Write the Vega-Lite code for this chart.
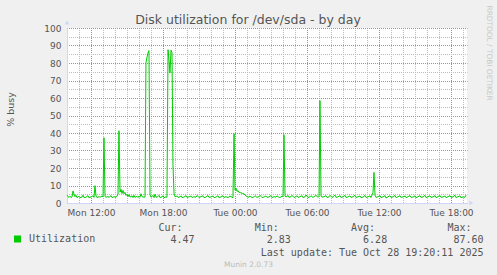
{
  "$schema": "https://vega.github.io/schema/vega-lite/v6.json",
  "width": 400,
  "height": 175,
  "autosize": {"type": "none"},
  "padding": {"left": 67, "top": 28, "right": 30, "bottom": 72},
  "background": "#f0f0f0",
  "title": {
    "text": "Disk utilization for /dev/sda - by day",
    "font": "DejaVu Sans",
    "fontSize": 12.5,
    "fontWeight": "normal",
    "color": "#555555",
    "anchor": "middle",
    "frame": "group",
    "dx": -19,
    "dy": 25,
    "offset": 4
  },
  "config": {
    "view": {"fill": "#ffffff", "stroke": null}
  },
  "datasets": {
    "disk": [
      {"hour": 10.00, "busy": 4.5}, {"hour": 10.08, "busy": 3.7}, {"hour": 10.17, "busy": 3.2}, {"hour": 10.25, "busy": 3.9},
      {"hour": 10.33, "busy": 3.1}, {"hour": 10.42, "busy": 3.5}, {"hour": 10.50, "busy": 6.9}, {"hour": 10.58, "busy": 5.2},
      {"hour": 10.67, "busy": 3.6}, {"hour": 10.75, "busy": 4.4}, {"hour": 10.83, "busy": 3.1}, {"hour": 11.00, "busy": 3.8},
      {"hour": 11.08, "busy": 3.0}, {"hour": 11.25, "busy": 3.4}, {"hour": 11.33, "busy": 4.5}, {"hour": 11.42, "busy": 3.1},
      {"hour": 11.58, "busy": 3.3}, {"hour": 11.75, "busy": 4.2}, {"hour": 11.83, "busy": 3.0}, {"hour": 12.00, "busy": 3.5},
      {"hour": 12.17, "busy": 4.1}, {"hour": 12.25, "busy": 3.2}, {"hour": 12.33, "busy": 9.9}, {"hour": 12.42, "busy": 4.0},
      {"hour": 12.50, "busy": 3.1}, {"hour": 12.67, "busy": 3.6}, {"hour": 12.75, "busy": 3.3}, {"hour": 12.92, "busy": 4.0},
      {"hour": 13.00, "busy": 3.4}, {"hour": 13.08, "busy": 37.3}, {"hour": 13.17, "busy": 3.8}, {"hour": 13.25, "busy": 3.3},
      {"hour": 13.42, "busy": 3.7}, {"hour": 13.50, "busy": 3.2}, {"hour": 13.67, "busy": 4.2}, {"hour": 13.75, "busy": 3.1},
      {"hour": 13.92, "busy": 3.6}, {"hour": 14.08, "busy": 3.2}, {"hour": 14.17, "busy": 4.0}, {"hour": 14.25, "busy": 5.1},
      {"hour": 14.33, "busy": 41.3}, {"hour": 14.42, "busy": 6.2}, {"hour": 14.50, "busy": 7.8}, {"hour": 14.58, "busy": 5.4},
      {"hour": 14.67, "busy": 7.2}, {"hour": 14.75, "busy": 5.3}, {"hour": 14.83, "busy": 6.1}, {"hour": 14.92, "busy": 4.3},
      {"hour": 15.00, "busy": 5.0}, {"hour": 15.08, "busy": 3.6}, {"hour": 15.17, "busy": 4.8}, {"hour": 15.25, "busy": 3.4},
      {"hour": 15.42, "busy": 4.1}, {"hour": 15.50, "busy": 3.1}, {"hour": 15.58, "busy": 4.4}, {"hour": 15.67, "busy": 3.2},
      {"hour": 15.83, "busy": 3.8}, {"hour": 15.92, "busy": 3.1}, {"hour": 16.00, "busy": 4.0}, {"hour": 16.08, "busy": 3.3},
      {"hour": 16.17, "busy": 5.3}, {"hour": 16.25, "busy": 3.6}, {"hour": 16.42, "busy": 3.3}, {"hour": 16.50, "busy": 3.5},
      {"hour": 16.58, "busy": 80.2}, {"hour": 16.67, "busy": 83.4}, {"hour": 16.75, "busy": 85.8}, {"hour": 16.83, "busy": 87.1},
      {"hour": 16.92, "busy": 4.6}, {"hour": 17.00, "busy": 3.3}, {"hour": 17.17, "busy": 4.3}, {"hour": 17.25, "busy": 3.1},
      {"hour": 17.33, "busy": 5.0}, {"hour": 17.42, "busy": 3.3}, {"hour": 17.58, "busy": 3.6}, {"hour": 17.67, "busy": 4.4},
      {"hour": 17.75, "busy": 3.1}, {"hour": 17.92, "busy": 3.5}, {"hour": 18.00, "busy": 4.2}, {"hour": 18.08, "busy": 3.0},
      {"hour": 18.25, "busy": 3.6}, {"hour": 18.33, "busy": 3.2}, {"hour": 18.42, "busy": 87.6}, {"hour": 18.50, "busy": 81.5},
      {"hour": 18.58, "busy": 74.3}, {"hour": 18.67, "busy": 87.3}, {"hour": 18.75, "busy": 85.9}, {"hour": 18.83, "busy": 22.0},
      {"hour": 18.92, "busy": 5.4}, {"hour": 19.00, "busy": 3.6}, {"hour": 19.17, "busy": 4.0}, {"hour": 19.25, "busy": 3.2},
      {"hour": 19.42, "busy": 3.5}, {"hour": 19.50, "busy": 4.1}, {"hour": 19.58, "busy": 3.1}, {"hour": 19.75, "busy": 3.4},
      {"hour": 19.92, "busy": 4.2}, {"hour": 20.00, "busy": 3.2}, {"hour": 20.17, "busy": 3.5}, {"hour": 20.33, "busy": 4.0},
      {"hour": 20.42, "busy": 3.1}, {"hour": 20.58, "busy": 3.6}, {"hour": 20.75, "busy": 3.3}, {"hour": 20.83, "busy": 4.3},
      {"hour": 21.00, "busy": 3.2}, {"hour": 21.17, "busy": 3.6}, {"hour": 21.33, "busy": 4.1}, {"hour": 21.42, "busy": 3.1},
      {"hour": 21.58, "busy": 3.4}, {"hour": 21.75, "busy": 4.3}, {"hour": 21.83, "busy": 3.2}, {"hour": 22.00, "busy": 3.5},
      {"hour": 22.17, "busy": 4.0}, {"hour": 22.25, "busy": 3.1}, {"hour": 22.42, "busy": 3.4}, {"hour": 22.58, "busy": 4.2},
      {"hour": 22.67, "busy": 3.0}, {"hour": 22.83, "busy": 3.5}, {"hour": 23.00, "busy": 4.1}, {"hour": 23.08, "busy": 3.2},
      {"hour": 23.25, "busy": 3.6}, {"hour": 23.42, "busy": 3.1}, {"hour": 23.58, "busy": 4.0}, {"hour": 23.75, "busy": 3.3},
      {"hour": 23.83, "busy": 3.0}, {"hour": 23.92, "busy": 39.6}, {"hour": 24.00, "busy": 7.4}, {"hour": 24.08, "busy": 8.5},
      {"hour": 24.17, "busy": 6.6}, {"hour": 24.25, "busy": 7.1}, {"hour": 24.33, "busy": 6.0}, {"hour": 24.42, "busy": 6.2},
      {"hour": 24.50, "busy": 5.5}, {"hour": 24.58, "busy": 5.9}, {"hour": 24.67, "busy": 5.2}, {"hour": 24.75, "busy": 5.4},
      {"hour": 24.83, "busy": 4.5}, {"hour": 24.92, "busy": 4.1}, {"hour": 25.00, "busy": 3.6}, {"hour": 25.17, "busy": 3.3},
      {"hour": 25.25, "busy": 4.0}, {"hour": 25.42, "busy": 3.1}, {"hour": 25.58, "busy": 3.5}, {"hour": 25.67, "busy": 4.2},
      {"hour": 25.83, "busy": 3.2}, {"hour": 26.00, "busy": 3.6}, {"hour": 26.08, "busy": 4.4}, {"hour": 26.25, "busy": 3.1},
      {"hour": 26.42, "busy": 3.4}, {"hour": 26.58, "busy": 4.0}, {"hour": 26.67, "busy": 3.2}, {"hour": 26.83, "busy": 3.5},
      {"hour": 27.00, "busy": 4.3}, {"hour": 27.08, "busy": 3.1}, {"hour": 27.25, "busy": 3.6}, {"hour": 27.42, "busy": 3.3},
      {"hour": 27.50, "busy": 4.1}, {"hour": 27.67, "busy": 3.2}, {"hour": 27.83, "busy": 3.4}, {"hour": 27.92, "busy": 4.0},
      {"hour": 28.00, "busy": 3.6}, {"hour": 28.08, "busy": 39.0}, {"hour": 28.17, "busy": 4.0}, {"hour": 28.25, "busy": 3.4},
      {"hour": 28.42, "busy": 4.3}, {"hour": 28.50, "busy": 3.2}, {"hour": 28.67, "busy": 3.6}, {"hour": 28.75, "busy": 4.4},
      {"hour": 28.92, "busy": 3.1}, {"hour": 29.00, "busy": 3.5}, {"hour": 29.17, "busy": 4.1}, {"hour": 29.25, "busy": 3.2},
      {"hour": 29.42, "busy": 3.6}, {"hour": 29.58, "busy": 4.2}, {"hour": 29.67, "busy": 3.1}, {"hour": 29.83, "busy": 3.5},
      {"hour": 29.92, "busy": 4.6}, {"hour": 30.08, "busy": 3.2}, {"hour": 30.25, "busy": 3.5}, {"hour": 30.33, "busy": 4.1},
      {"hour": 30.50, "busy": 3.2}, {"hour": 30.58, "busy": 3.6}, {"hour": 30.75, "busy": 4.3}, {"hour": 30.92, "busy": 3.3},
      {"hour": 31.00, "busy": 3.8}, {"hour": 31.08, "busy": 58.5}, {"hour": 31.17, "busy": 4.1}, {"hour": 31.25, "busy": 3.3},
      {"hour": 31.42, "busy": 3.6}, {"hour": 31.58, "busy": 4.2}, {"hour": 31.67, "busy": 3.1}, {"hour": 31.83, "busy": 3.5},
      {"hour": 31.92, "busy": 4.4}, {"hour": 32.08, "busy": 3.2}, {"hour": 32.17, "busy": 3.6}, {"hour": 32.33, "busy": 4.5},
      {"hour": 32.42, "busy": 3.2}, {"hour": 32.58, "busy": 3.5}, {"hour": 32.75, "busy": 4.2}, {"hour": 32.83, "busy": 3.1},
      {"hour": 33.00, "busy": 3.6}, {"hour": 33.17, "busy": 4.3}, {"hour": 33.25, "busy": 3.2}, {"hour": 33.42, "busy": 3.5},
      {"hour": 33.58, "busy": 4.1}, {"hour": 33.67, "busy": 3.1}, {"hour": 33.83, "busy": 3.6}, {"hour": 34.00, "busy": 4.4},
      {"hour": 34.08, "busy": 3.2}, {"hour": 34.25, "busy": 3.5}, {"hour": 34.42, "busy": 4.0}, {"hour": 34.50, "busy": 3.0},
      {"hour": 34.67, "busy": 3.4}, {"hour": 34.83, "busy": 4.3}, {"hour": 34.92, "busy": 3.2}, {"hour": 35.08, "busy": 3.5},
      {"hour": 35.25, "busy": 4.1}, {"hour": 35.33, "busy": 3.1}, {"hour": 35.50, "busy": 6.0}, {"hour": 35.58, "busy": 17.5},
      {"hour": 35.67, "busy": 4.4}, {"hour": 35.75, "busy": 3.2}, {"hour": 35.92, "busy": 3.6}, {"hour": 36.08, "busy": 4.3},
      {"hour": 36.17, "busy": 3.1}, {"hour": 36.33, "busy": 3.5}, {"hour": 36.50, "busy": 4.2}, {"hour": 36.58, "busy": 2.83},
      {"hour": 36.75, "busy": 3.6}, {"hour": 36.92, "busy": 4.1}, {"hour": 37.00, "busy": 3.2}, {"hour": 37.17, "busy": 3.5},
      {"hour": 37.33, "busy": 4.3}, {"hour": 37.42, "busy": 3.1}, {"hour": 37.58, "busy": 3.6}, {"hour": 37.75, "busy": 4.2},
      {"hour": 37.83, "busy": 3.2}, {"hour": 38.00, "busy": 3.5}, {"hour": 38.17, "busy": 4.0}, {"hour": 38.25, "busy": 3.1},
      {"hour": 38.42, "busy": 3.6}, {"hour": 38.58, "busy": 4.3}, {"hour": 38.67, "busy": 3.2}, {"hour": 38.83, "busy": 3.4},
      {"hour": 39.00, "busy": 4.1}, {"hour": 39.08, "busy": 3.0}, {"hour": 39.25, "busy": 3.6}, {"hour": 39.42, "busy": 4.2},
      {"hour": 39.50, "busy": 3.2}, {"hour": 39.67, "busy": 3.5}, {"hour": 39.83, "busy": 4.3}, {"hour": 39.92, "busy": 3.1},
      {"hour": 40.08, "busy": 3.6}, {"hour": 40.25, "busy": 4.1}, {"hour": 40.33, "busy": 3.2}, {"hour": 40.50, "busy": 3.5},
      {"hour": 40.67, "busy": 4.2}, {"hour": 40.75, "busy": 3.1}, {"hour": 40.92, "busy": 3.6}, {"hour": 41.08, "busy": 4.3},
      {"hour": 41.17, "busy": 3.2}, {"hour": 41.33, "busy": 3.5}, {"hour": 41.50, "busy": 4.0}, {"hour": 41.58, "busy": 3.1},
      {"hour": 41.75, "busy": 3.6}, {"hour": 41.92, "busy": 4.2}, {"hour": 42.00, "busy": 3.2}, {"hour": 42.17, "busy": 3.5},
      {"hour": 42.33, "busy": 4.4}, {"hour": 42.42, "busy": 3.1}, {"hour": 42.58, "busy": 3.6}, {"hour": 42.75, "busy": 4.1},
      {"hour": 42.83, "busy": 3.0}, {"hour": 43.00, "busy": 3.5}, {"hour": 43.17, "busy": 3.3}, {"hour": 43.25, "busy": 4.47}
    ]
  },
  "layer": [
    {
      "data": {"name": "disk"},
      "mark": {"type": "line", "strokeWidth": 1},
      "encoding": {
        "x": {
          "field": "hour",
          "type": "quantitative",
          "scale": {"domain": [10, 43.3333], "nice": false, "zero": false},
          "axis": {
            "orient": "bottom",
            "values": [10, 11, 12, 13, 14, 15, 16, 17, 18, 19, 20, 21, 22, 23, 24, 25, 26, 27, 28, 29, 30, 31, 32, 33, 34, 35, 36, 37, 38, 39, 40, 41, 42, 43],
            "grid": true,
            "gridDash": [1, 1],
            "gridDashOffset": 0.5,
            "gridOpacity": 1,
            "gridColor": {"condition": {"test": "datum.value % 6 === 0", "value": "#e27474"}, "value": "#bcbcbc"},
            "domain": true,
            "domainColor": "#cfd6f8",
            "ticks": false,
            "tickSize": 0,
            "labelExpr": "datum.value % 6 === 0 ? (datum.value < 24 ? 'Mon ' : 'Tue ') + (datum.value % 24 < 10 ? '0' : '') + (datum.value % 24) + ':00' : ''",
            "labelFont": "DejaVu Sans",
            "labelFontSize": 9,
            "labelColor": "#555555",
            "labelPadding": 5.5,
            "labelFlush": false,
            "labelOverlap": false,
            "labelBound": false,
            "title": [
              "Cur:\u00a0\u00a0\u00a0\u00a0\u00a0\u00a0\u00a0\u00a0\u00a0\u00a0\u00a0\u00a0Min:\u00a0\u00a0\u00a0\u00a0\u00a0\u00a0\u00a0\u00a0\u00a0\u00a0\u00a0\u00a0Avg:\u00a0\u00a0\u00a0\u00a0\u00a0\u00a0\u00a0\u00a0\u00a0\u00a0\u00a0\u00a0Max:\u00a0\u00a0\u200b",
              "4.47\u00a0\u00a0\u00a0\u00a0\u00a0\u00a0\u00a0\u00a0\u00a0\u00a0\u00a0\u00a02.83\u00a0\u00a0\u00a0\u00a0\u00a0\u00a0\u00a0\u00a0\u00a0\u00a0\u00a0\u00a06.28\u00a0\u00a0\u00a0\u00a0\u00a0\u00a0\u00a0\u00a0\u00a0\u00a0\u00a087.60",
              "Last\u00a0update:\u00a0Tue\u00a0Oct\u00a028\u00a019:20:11\u00a02025"
            ],
            "titleFont": "DejaVu Sans Mono",
            "titleFontSize": 10,
            "titleFontWeight": "normal",
            "titleColor": "#555555",
            "titleAlign": "right",
            "titleAnchor": null,
            "titleBaseline": "alphabetic",
            "titleLineHeight": 12.3,
            "titleX": 416,
            "titleY": 27.6
          }
        },
        "y": {
          "field": "busy",
          "type": "quantitative",
          "scale": {"domain": [0, 100], "nice": false},
          "axis": {
            "orient": "left",
            "values": [0, 5, 10, 15, 20, 25, 30, 35, 40, 45, 50, 55, 60, 65, 70, 75, 80, 85, 90, 95, 100],
            "grid": true,
            "gridDash": [1, 1],
            "gridDashOffset": 0.5,
            "gridOpacity": 1,
            "gridColor": {"condition": {"test": "datum.value % 10 === 0", "value": "#e27474"}, "value": "#bcbcbc"},
            "domain": true,
            "domainColor": "#cfd6f8",
            "ticks": false,
            "tickSize": 0,
            "labelExpr": "datum.value % 10 === 0 ? datum.label : ''",
            "labelFont": "DejaVu Sans",
            "labelFontSize": 9,
            "labelColor": "#555555",
            "labelPadding": 6,
            "labelOverlap": false,
            "labelBound": false,
            "title": "% busy",
            "titleFont": "DejaVu Sans",
            "titleFontSize": 9.5,
            "titleFontWeight": "normal",
            "titleColor": "#555555",
            "titleAngle": -90,
            "titleAlign": "center",
            "titleBaseline": "middle",
            "titleAnchor": null,
            "titleX": -57,
            "titleY": 81
          }
        },
        "color": {
          "datum": "Utilization",
          "scale": {"domain": ["Utilization"], "range": ["#00cc00"]},
          "legend": {
            "orient": "none",
            "legendX": -54.5,
            "legendY": 206,
            "direction": "vertical",
            "title": null,
            "padding": 0,
            "symbolType": "square",
            "symbolSize": 49,
            "symbolFillColor": "#00cc00",
            "symbolStrokeWidth": 0,
            "labelFont": "DejaVu Sans Mono",
            "labelFontSize": 10,
            "labelColor": "#555555",
            "labelOffset": 6.5,
            "encode": {
              "symbols": {"update": {"fill": {"value": "#00cc00"}, "strokeWidth": {"value": 0}}}
            }
          }
        }
      }
    },
    {
      "data": {"values": [{}]},
      "mark": {"type": "point", "shape": "triangle-up", "size": 22, "filled": true, "opacity": 1, "color": "#cfd6f8"},
      "encoding": {
        "x": {
          "datum": 10,
          "type": "quantitative",
          "scale": {"domain": [10, 43.3333], "nice": false, "zero": false},
          "axis": {
            "orient": "bottom",
            "grid": false,
            "labels": false,
            "ticks": false,
            "domain": false,
            "title": "Munin 2.0.73",
            "titleFont": "DejaVu Sans",
            "titleFontSize": 7.5,
            "titleFontWeight": "normal",
            "titleColor": "#bbbbbb",
            "titleAlign": "center",
            "titleBaseline": "middle",
            "titleAnchor": null,
            "titleX": 181,
            "titleY": 61
          }
        },
        "y": {
          "datum": 103.1,
          "type": "quantitative",
          "scale": {"domain": [0, 100], "nice": false},
          "axis": {
            "orient": "right",
            "grid": false,
            "labels": false,
            "ticks": false,
            "domain": false,
            "title": "RRDTOOL / TOBI OETIKER",
            "titleFont": "DejaVu Sans",
            "titleFontSize": 7.4,
            "titleFontWeight": "normal",
            "titleColor": "#c8c8c8",
            "titleAngle": 90,
            "titleAlign": "left",
            "titleBaseline": "middle",
            "titleAnchor": null,
            "titleX": 21.5,
            "titleY": -23
          }
        }
      }
    },
    {
      "data": {"values": [{}]},
      "mark": {"type": "point", "shape": "triangle-right", "size": 22, "filled": true, "opacity": 1, "color": "#cfd6f8"},
      "encoding": {
        "x": {"datum": 43.69, "type": "quantitative", "scale": {"domain": [10, 43.3333], "nice": false, "zero": false}, "axis": null},
        "y": {"datum": 0, "type": "quantitative", "scale": {"domain": [0, 100], "nice": false}, "axis": null}
      }
    }
  ],
  "resolve": {"axis": {"x": "independent", "y": "independent"}}
}
